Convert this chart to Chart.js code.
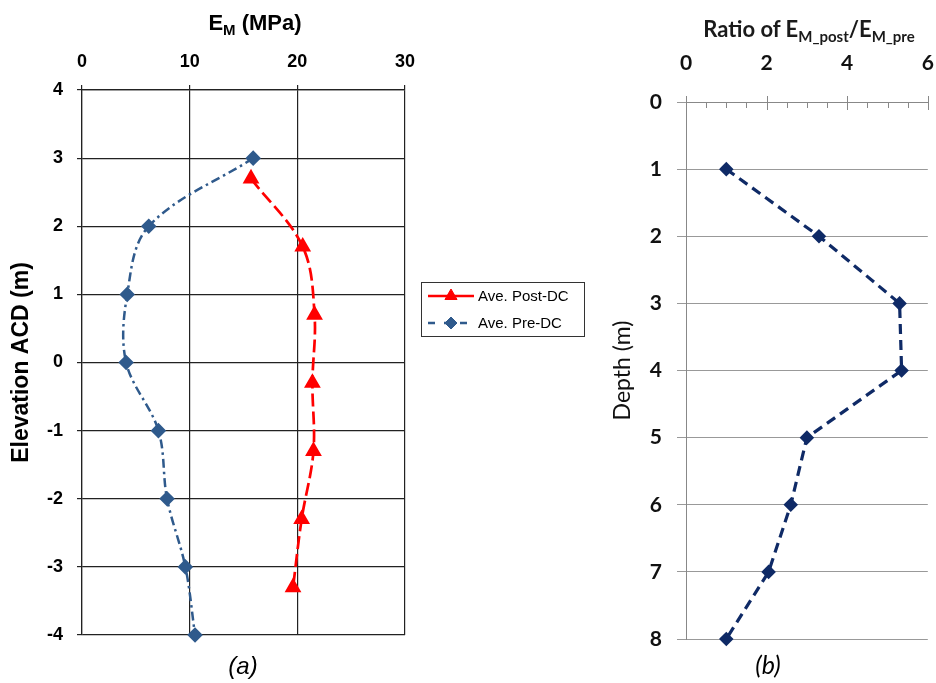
<!DOCTYPE html>
<html><head><meta charset="utf-8">
<script src="https://cdn.jsdelivr.net/npm/chart.js@4.4.0/dist/chart.umd.min.js"></script>
<style>
html,body{margin:0;padding:0;background:#fff;}
body{width:936px;height:683px;position:relative;overflow:hidden;}
canvas{position:absolute;top:0;}
.t{position:absolute;transform:translate(-50%,-50%);white-space:nowrap;color:#000;line-height:1;}
.sub{position:relative;top:5px;}
</style></head><body>
<canvas id="ca" width="590" height="683" style="left:0"></canvas>
<canvas id="cb" width="346" height="683" style="left:590px"></canvas>
<div class="t" style="left:255px;top:23px;font:bold 22px 'Liberation Sans',Arial,sans-serif;">E<span class="sub" style="font-size:15px;">M</span> (MPa)</div>
<div class="t" style="left:809px;top:28px;font:bold 22px Lato,'Noto Sans',sans-serif;color:#1a1a1a;">Ratio of E<span class="sub" style="font-size:15px;">M_post</span>/E<span class="sub" style="font-size:15px;">M_pre</span></div>
<div class="t" style="left:243px;top:666px;font:italic 24px 'Liberation Sans',Arial,sans-serif;">(a)</div>
<div class="t" style="left:768px;top:664px;font:italic 25px Lato,'Noto Sans',sans-serif;">(b)</div>
<script>
// ---- data, panel (a)
const preElev = [3, 2, 1, 0, -1, -2, -3, -4];
const preEM   = [15.9, 6.2, 4.2, 4.1, 7.1, 7.9, 9.6, 10.5];
const postElev = [2.7, 1.7, 0.7, -0.3, -1.3, -2.3, -3.3];
const postEM   = [15.7, 20.5, 21.6, 21.4, 21.5, 20.4, 19.6];
const xTicksA = [0, 10, 20, 30];
const yTicksA = [-4, -3, -2, -1, 0, 1, 2, 3, 4];
const seriesNamesA = ['Ave. Post-DC', 'Ave. Pre-DC'];
// ---- data, panel (b)
const depthB = [1, 2, 3, 4, 5, 6, 7, 8];
const ratioB = [1.0, 3.3, 5.3, 5.35, 3.0, 2.6, 2.05, 1.0];
const xTicksB = [0, 2, 4, 6];
const xMinorStepB = 0.5;
const yTicksB = [0, 1, 2, 3, 4, 5, 6, 7, 8];

const toPts = (xs, ys) => xs.map((x, i) => ({x: x, y: ys[i]}));
const setTicks = arr => (scale => { scale.ticks = arr.map(v => ({value: v})); });

const fontA = "'Liberation Sans', Arial, sans-serif";
const fontB = "Lato, 'Noto Sans', sans-serif";
const RED = '#ff0000', BLUE = '#2f5a8c', NAVY = '#0f2a66';

function drawMarker(ctx, style, r, x, y, color) {
  if (Chart.helpers && Chart.helpers.drawPoint) {
    ctx.fillStyle = color; ctx.strokeStyle = color; ctx.lineWidth = 1; ctx.setLineDash([]);
    Chart.helpers.drawPoint(ctx, {pointStyle: style, radius: r, rotation: 0, borderWidth: 1}, x, y);
    return;
  }
  ctx.beginPath();
  if (style === 'triangle') {
    ctx.moveTo(x, y - r); ctx.lineTo(x + r * 0.866, y + r / 2); ctx.lineTo(x - r * 0.866, y + r / 2);
  } else {
    ctx.moveTo(x, y - r); ctx.lineTo(x + r, y); ctx.lineTo(x, y + r); ctx.lineTo(x - r, y);
  }
  ctx.closePath(); ctx.fillStyle = color; ctx.fill();
}

const boxLegend = {
  id: 'boxLegend',
  afterDraw(chart) {
    const ctx = chart.ctx;
    ctx.save();
    ctx.setLineDash([]);
    ctx.strokeStyle = '#333'; ctx.lineWidth = 1;
    ctx.strokeRect(421.5, 282.5, 163, 54);
    const rows = [296, 323];
    chart.data.datasets.forEach((ds, i) => {
      const y = rows[i];
      ctx.save();
      ctx.strokeStyle = ds.borderColor; ctx.lineWidth = ds.borderWidth;
      ctx.setLineDash(i === 0 ? [] : [7, 9]);
      ctx.beginPath(); ctx.moveTo(428, y); ctx.lineTo(474, y); ctx.stroke();
      ctx.restore();
      ctx.save();
      drawMarker(ctx, ds.pointStyle, ds.pointRadius, 451, y, ds.pointBackgroundColor);
      ctx.restore();
      ctx.fillStyle = '#000';
      ctx.font = '15px ' + fontA;
      ctx.textBaseline = 'middle';
      ctx.fillText(ds.label, 478, y + 1);
    });
    ctx.restore();
  }
};

new Chart(document.getElementById('ca'), {
  type: 'scatter',
  data: {
    datasets: [
      {label: seriesNamesA[0], data: toPts(postEM, postElev), showLine: true, tension: 0.35,
       borderColor: RED, borderWidth: 2.7, borderDash: [13, 5],
       pointStyle: 'triangle', pointRadius: 7, pointBackgroundColor: RED, pointBorderColor: RED, clip: false},
      {label: seriesNamesA[1], data: toPts(preEM, preElev), showLine: true, tension: 0.35,
       borderColor: BLUE, borderWidth: 2.5, borderDash: [9, 4, 2.5, 4],
       pointStyle: 'rectRot', pointRadius: 6, pointBackgroundColor: BLUE, pointBorderColor: BLUE, clip: false}
    ]
  },
  options: {
    responsive: false, animation: false,
    layout: {padding: {left: 0, top: 0, right: 185, bottom: 48}},
    plugins: {legend: {display: false}, tooltip: {enabled: false}},
    scales: {
      x: {
        type: 'linear', position: 'top', min: 0, max: 30,
        afterBuildTicks: setTicks(xTicksA),
        afterFit(s) { s.height = 90; s.paddingLeft = 0; s.paddingRight = 0; },
        grid: {color: '#222', lineWidth: 1.2, tickLength: 5},
        border: {color: '#222', width: 1.2},
        ticks: {color: '#000', padding: 12, font: {family: fontA, size: 18, weight: 'bold'}}
      },
      y: {
        type: 'linear', min: -4, max: 4,
        afterBuildTicks: setTicks(yTicksA),
        afterFit(s) { s.width = 82; s.paddingTop = 0; s.paddingBottom = 0; },
        grid: {color: '#222', lineWidth: 1.2, tickLength: 5},
        border: {color: '#222', width: 1.2},
        ticks: {color: '#000', padding: 14, font: {family: fontA, size: 18, weight: 'bold'}},
        title: {display: true, text: 'Elevation ACD (m)', color: '#000', padding: {top: 8, bottom: 0},
                font: {family: fontA, size: 23, weight: 'bold'}}
      }
    }
  },
  plugins: [boxLegend]
});

const crossTicks = {
  id: 'crossTicks',
  afterDraw(chart) {
    const s = chart.scales.x, ctx = chart.ctx, y = s.bottom;
    ctx.save();
    ctx.strokeStyle = '#888'; ctx.lineWidth = 1;
    const n = Math.round((s.max - s.min) / xMinorStepB);
    for (let k = 0; k <= n; k++) {
      const v = s.min + k * xMinorStepB;
      const major = xTicksB.includes(v);
      const px = Math.round(s.getPixelForValue(v)) + 0.5;
      ctx.beginPath();
      ctx.moveTo(px, major ? y - 6 : y);
      ctx.lineTo(px, major ? y + 8 : y + 6);
      ctx.stroke();
    }
    ctx.restore();
  }
};

new Chart(document.getElementById('cb'), {
  type: 'scatter',
  data: {
    datasets: [
      {label: 'Ratio', data: toPts(ratioB, depthB), showLine: true, tension: 0,
       borderColor: NAVY, borderWidth: 3.2, borderDash: [10, 6],
       pointStyle: 'rectRot', pointRadius: 5, pointBackgroundColor: NAVY, pointBorderColor: NAVY, clip: false}
    ]
  },
  options: {
    responsive: false, animation: false,
    layout: {padding: {left: 0, top: 0, right: 4, bottom: 44}},
    plugins: {legend: {display: false}, tooltip: {enabled: false}},
    scales: {
      x: {
        type: 'linear', position: 'top', min: 0, max: 6,
        afterBuildTicks: setTicks(xTicksB),
        afterFit(s) { s.height = 102; s.paddingLeft = 0; s.paddingRight = 0; },
        grid: {display: false, drawTicks: false},
        border: {display: true, color: '#888', width: 1},
        ticks: {color: '#111', padding: 26, font: {family: fontB, size: 21, weight: 'bold'}}
      },
      y: {
        type: 'linear', reverse: true, min: 0, max: 8,
        afterBuildTicks: setTicks(yTicksB),
        afterFit(s) { s.width = 96; s.paddingTop = 0; s.paddingBottom = 0; },
        grid: {color: '#999', lineWidth: 1, tickLength: 9},
        border: {color: '#888', width: 1},
        ticks: {color: '#111', padding: 15, font: {family: fontB, size: 21, weight: 'bold'}},
        title: {display: true, text: 'Depth (m)', color: '#111', padding: {top: 19, bottom: 0},
                font: {family: fontB, size: 23, weight: 'normal'}}
      }
    }
  },
  plugins: [crossTicks]
});
</script>
</body></html>
